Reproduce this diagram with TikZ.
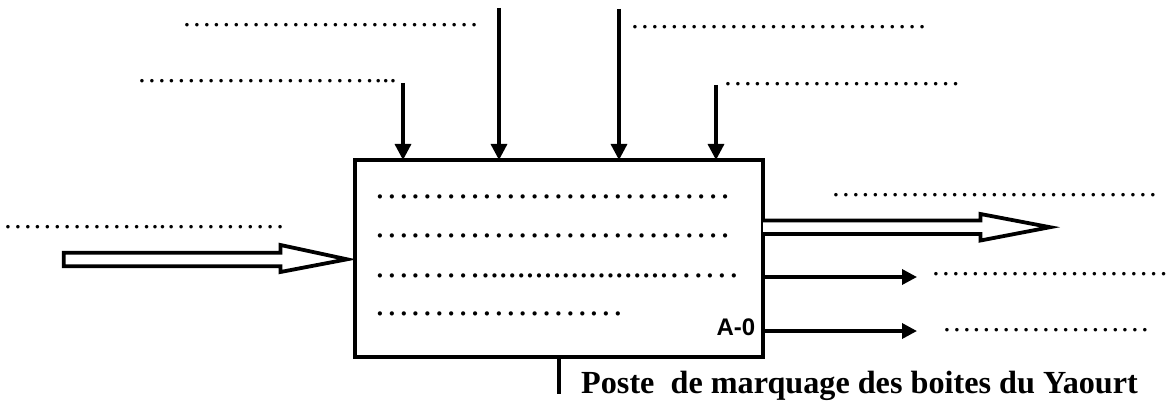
\documentclass[tikz,border=0pt]{standalone}
\usepackage{fontspec}
\setmainfont{Liberation Serif}
\newfontfamily\tagsans{Liberation Sans}
\usetikzlibrary{arrows.meta}

% text sizes (1 unit = 1pt)
\newcommand\lblfont{\fontsize{29.7pt}{34pt}\selectfont}
\newcommand\inboxfont{\fontsize{35.7pt}{40pt}\selectfont}
\newcommand\titlefont{\fontsize{32.2pt}{36pt}\selectfont\bfseries}
\newcommand\tagfont{\tagsans\fontsize{24pt}{28pt}\selectfont\bfseries}

% runs of blank-fill characters
\newcommand\ellrun[1]{\ifnum#1>0 …\expandafter\ellrun\expandafter{\the\numexpr#1-1\relax}\fi}
\newcommand\perrun[1]{\ifnum#1>0 .\expandafter\perrun\expandafter{\the\numexpr#1-1\relax}\fi}

\tikzset{
  funcbox/.style={draw, line width=4pt, rectangle, minimum width=408pt,
    minimum height=197pt, inner sep=0pt, outer sep=0pt},
  ctrl/.style={line width=3.3pt, -{Triangle[length=16pt,width=16pt]}},
  outarr/.style={line width=3.5pt, -{Triangle[length=15pt,width=15pt]}},
  hollow/.style={line width=3.8pt, fill=white, line join=miter},
  mech/.style={line width=3.5pt},
  lbl/.style={inner sep=0pt, outer sep=0pt, anchor=base west, font=\lblfont},
  inlbl/.style={inner sep=0pt, outer sep=0pt, anchor=base west, font=\inboxfont},
}

\begin{document}
\begin{tikzpicture}[x=1pt, y=-1pt]
\useasboundingbox (0,0) rectangle (1168,401);

% activity box
\node[funcbox] (box) at (559,258.5) {};

% text lines inside the box
\node[inlbl] (t1) at (374,198.8) {\ellrun{10}};
\node[inlbl] (t2) at (374,237.8) {\ellrun{10}};
\node[inlbl] (t3) at (374,277.8) {\ellrun{3}\perrun{21}\ellrun{2}};
\node[inlbl] (t4) at (374,315.8) {\ellrun{7}};
\node[inner sep=0pt, anchor=base east, font=\tagfont] (tag) at (755.5,335) {A-0};

% controls (top)
\coordinate (c1) at (403,83);
\coordinate (c2) at (499,8);
\coordinate (c3) at (619,9);
\coordinate (c4) at (716,85);
\draw[ctrl] (c1) -- (c1 |- box.north);
\draw[ctrl] (c2) -- (c2 |- box.north);
\draw[ctrl] (c3) -- (c3 |- box.north);
\draw[ctrl] (c4) -- (c4 |- box.north);

\node[lbl] (lc1) at (182,26.5) {\ellrun{10}};
\node[lbl] (lc2) at (137,82.5) {\ellrun{8}\perrun{3}};
\node[lbl] (lc3) at (630,28.5) {\ellrun{10}};
\node[lbl] (lc4) at (723,85.5) {\ellrun{8}};

% input (left, hollow arrow)
\draw[hollow] (63.8,252.8) -- (280.5,252.8) -- (280.5,245) -- (347,259.3)
  -- (280.5,272) -- (280.5,266.2) -- (63.8,266.2) -- cycle;
\node[lbl] (lin) at (3,228.5) {\ellrun{5}\perrun{2}\ellrun{4}};

% main output (right, hollow arrow)
\coordinate (o1a) at (box.east |- 0,220.5);
\coordinate (o1b) at (box.east |- 0,234);
\draw[hollow] (o1a) -- (980.5,220.5) -- (980.5,214) -- (1050,227.2)
  -- (980.5,240.5) -- (980.5,234) -- (o1b);
\node[lbl] (lo1) at (831,196.5) {\ellrun{11}};

% secondary outputs
\coordinate (o2) at (917,277);
\coordinate (o3) at (917,331);
\draw[outarr] (box.east |- o2) -- (o2);
\draw[outarr] (box.east |- o3) -- (o3);
\node[lbl] (lo2) at (931,275.5) {\ellrun{8}};
\node[lbl] (lo3) at (942,331.5) {\ellrun{7}};

% mechanism (bottom)
\coordinate (m) at (559,394);
\draw[mech] (box.south) -- (m);
\node[inner sep=0pt, anchor=base west, font=\titlefont] (title) at (581,393)
  {Poste\ \ de marquage des boites du Yaourt};
\end{tikzpicture}
\end{document}
